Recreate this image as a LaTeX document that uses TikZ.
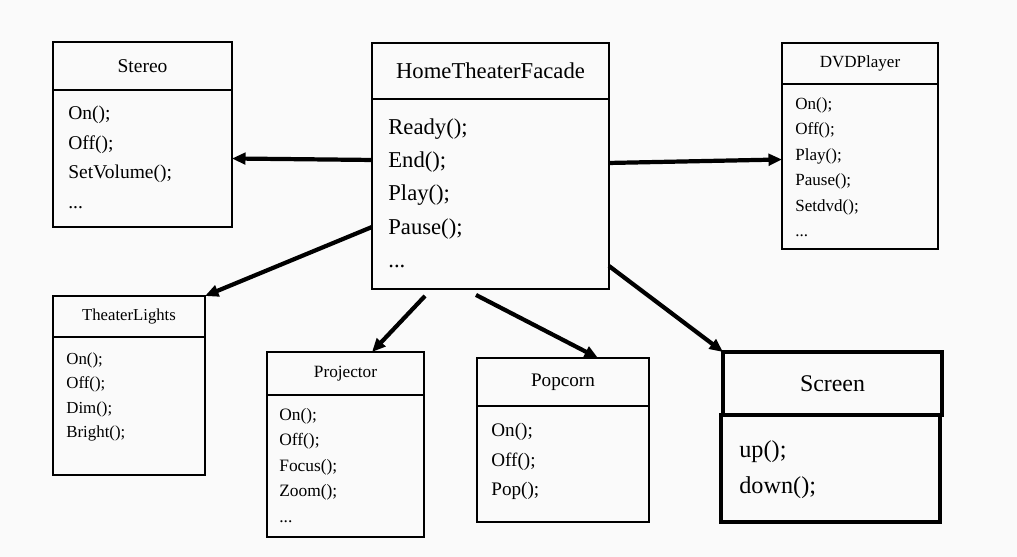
\documentclass[tikz,border=0pt]{standalone}
\usepackage{fontspec}
\setmainfont{Liberation Serif}
\usetikzlibrary{positioning}
\usetikzlibrary{arrows.meta}
\definecolor{paper}{RGB}{250,250,250}

\begin{document}
\begin{tikzpicture}[x=0.02cm, y=-0.02cm,
    box/.style={draw, line width=1.5pt, fill=paper, inner sep=0pt, outer sep=0pt},
    meth/.style={anchor=north west, align=left, inner sep=0pt},
    arr/.style={-{Triangle[length=0.27cm, width=0.23cm]}, line width=2.4pt}]
    % nền của hình
    \fill[paper] (0,0) rectangle (1017,557);

    % HomeTheaterFacade ở giữa
    \node[box, minimum width=4.74cm, minimum height=1.12cm, font=\fontsize{12.9}{15}\selectfont] (fhead) at (490.5,71) {HomeTheaterFacade};
    \node[box, minimum width=4.74cm, minimum height=3.8cm, below=0pt of fhead] (fbody) {};
    \node[meth, font=\fontsize{12.9}{19}\selectfont] (fmeth) at (388,118) {Ready();\\End();\\Play();\\Pause();\\...};

    % Stereo
    \node[box, minimum width=3.58cm, minimum height=0.96cm, font=\fontsize{11.1}{13}\selectfont] (sthead) at (142.5,66) {Stereo};
    \node[box, minimum width=3.58cm, minimum height=2.74cm, below=0pt of sthead] (stbody) {};
    \node[meth, font=\fontsize{11.1}{16.8}\selectfont] (stmeth) at (68,106) {On();\\Off();\\SetVolume();\\...};

    % DVDPlayer
    \node[box, minimum width=3.12cm, minimum height=0.82cm, font=\fontsize{9.7}{11}\selectfont] (dhead) at (860,63.5) {DVDPlayer};
    \node[box, minimum width=3.12cm, minimum height=3.3cm, below=0pt of dhead] (dbody) {};
    \node[meth, font=\fontsize{9.7}{14.5}\selectfont] (dmeth) at (795,97) {On();\\Off();\\Play();\\Pause();\\Setdvd();\\...};

    % TheaterLights
    \node[box, minimum width=3.04cm, minimum height=0.82cm, font=\fontsize{9.5}{11}\selectfont] (tlhead) at (129,316.5) {TheaterLights};
    \node[box, minimum width=3.04cm, minimum height=2.76cm, below=0pt of tlhead] (tlbody) {};
    \node[meth, font=\fontsize{9.6}{14}\selectfont] (tlmeth) at (66,352) {On();\\Off();\\Dim();\\Bright();};

    % Projector
    \node[box, minimum width=3.14cm, minimum height=0.86cm, font=\fontsize{9.8}{11}\selectfont] (phead) at (345.5,373.5) {Projector};
    \node[box, minimum width=3.14cm, minimum height=2.84cm, below=0pt of phead] (pbody) {};
    \node[meth, font=\fontsize{9.9}{14.5}\selectfont] (pmeth) at (279,408) {On();\\Off();\\Focus();\\Zoom();\\...};

    % Popcorn
    \node[box, minimum width=3.44cm, minimum height=0.96cm, font=\fontsize{10.9}{13}\selectfont] (pophead) at (563,382) {Popcorn};
    \node[box, minimum width=3.44cm, minimum height=2.32cm, below=0pt of pophead] (popbody) {};
    \node[meth, font=\fontsize{10.9}{16.8}\selectfont] (popmeth) at (491,423) {On();\\Off();\\Pop();};

    % Screen, viền đậm hơn
    \node[box, line width=2.1pt, minimum width=4.38cm, minimum height=1.26cm, font=\fontsize{13.6}{16}\selectfont] (schead) at (832.5,383.5) {Screen};
    \node[box, line width=2.1pt, minimum width=4.38cm, minimum height=2.14cm] (scbody) at (830.5,468.5) {};
    \node[meth, font=\fontsize{13.8}{20.5}\selectfont] (scmeth) at (739,440) {up();\\down();};

    % mũi tên từ HomeTheaterFacade
    \draw[arr] ([shift={(0,-34)}]fbody.west) -- (stbody.east);
    \draw[arr] ([shift={(0,-31)}]fbody.east) -- ([shift={(0,-7)}]dbody.west);
    \draw[arr] ([shift={(0,33)}]fbody.west) -- (tlhead.north east);
    \draw[arr] ([shift={(-65.5,7)}]fbody.south) -- ([shift={(26.5,0)}]phead.north);
    \draw[arr] ([shift={(-14.5,6)}]fbody.south) -- ([shift={(35,0)}]pophead.north);
    \draw[arr] ([shift={(0,72)}]fbody.east) -- (schead.north west);
\end{tikzpicture}
\end{document}
